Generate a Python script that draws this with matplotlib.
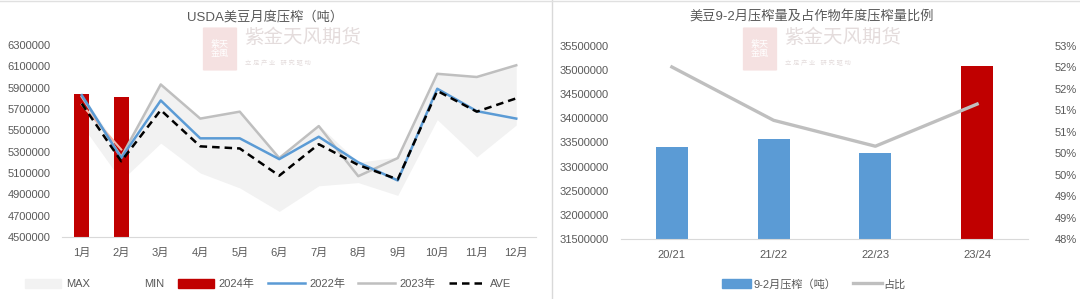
import numpy as np
import matplotlib
matplotlib.use("Agg")
import matplotlib.pyplot as plt
from matplotlib.patches import Patch, FancyBboxPatch
from matplotlib.lines import Line2D

plt.rcParams['font.family'] = ['Liberation Sans', 'Noto Sans CJK SC', 'DejaVu Sans']

# ---- left chart data (tonnes) ----
months = ['1月', '2月', '3月', '4月', '5月', '6月', '7月', '8月', '9月', '10月', '11月', '12月']
s_max = [5840000, 5300000, 5930000, 5610000, 5680000, 5250000, 5550000, 5200000, 5250000, 6040000, 6000000, 6120000]
s_min = [5550000, 5030000, 5380000, 5100000, 4960000, 4740000, 4980000, 5010000, 4890000, 5600000, 5250000, 5550000]
y2024 = [5840000, 5810000]
y2022 = [5830000, 5240000, 5780000, 5425000, 5425000, 5230000, 5440000, 5200000, 5030000, 5890000, 5680000, 5610000]
y2023 = [5815000, 5250000, 5930000, 5610000, 5675000, 5240000, 5540000, 5070000, 5240000, 6030000, 6000000, 6110000]
y_ave = [5750000, 5210000, 5690000, 5350000, 5330000, 5075000, 5370000, 5175000, 5040000, 5870000, 5675000, 5800000]
y_pink = [5740000, 5320000]

# ---- right chart data ----
seasons = ['20/21', '21/22', '22/23', '23/24']
crush_92 = [33400000, 33560000, 33270000, 35070000]
share = [52.45, 51.07, 50.40, 51.49]

RED = '#C00000'
BLUE = '#5B9BD5'
GRAY = '#BFBFBF'
TXT = '#595959'

fig = plt.figure(figsize=(10.8, 2.99), dpi=100)

# ================= left chart =================
ax = fig.add_axes([62/1080, 1-237/299, 474/1080, 192/299])
x = np.arange(len(months))
ax.fill_between(x, s_min, s_max, color='#F2F2F2', lw=0, zorder=1)
ax.bar(x[:len(y2024)], y2024, width=0.38, color=RED, zorder=2)
ax.plot(x[:len(y_pink)], y_pink, color='#F4B6A8', lw=1.5, zorder=3)
ax.plot(x, y2023, color=GRAY, lw=1.8, zorder=3)
ax.plot(x, y2022, color=BLUE, lw=1.8, zorder=4)
ax.plot(x, y_ave, color='black', lw=1.8, ls=(0, (3, 2)), zorder=5)

ax.set_ylim(4500000, 6300000)
ax.set_yticks(np.arange(4500000, 6300001, 200000))
ax.set_yticklabels([str(v) for v in range(4500000, 6300001, 200000)])
ax.set_xlim(-0.5, 11.5)
ax.set_xticks(x)
ax.set_xticklabels(months)
for s in ['top', 'right', 'left']:
    ax.spines[s].set_visible(False)
ax.spines['bottom'].set_color('#D9D9D9')
ax.tick_params(length=0, labelsize=8, colors=TXT)
ax.tick_params(axis='x', pad=8)
ax.tick_params(axis='y', pad=8)
fig.text(265/1080, 1-17/299, 'USDA美豆月度压榨（吨）', ha='center', va='center', fontsize=9.5, color=TXT)

handles = [Patch(color='#F2F2F2'), Patch(color='white'), Patch(color=RED),
           Line2D([], [], color=BLUE, lw=1.8), Line2D([], [], color=GRAY, lw=1.8),
           Line2D([], [], color='black', lw=1.8, ls=(0, (3, 2)))]
labels = ['MAX', 'MIN', '2024年', '2022年', '2023年', 'AVE']
fig.legend(handles, labels, loc='center', bbox_to_anchor=(268/1080, 1-284/299), ncol=6,
           frameon=False, fontsize=8, handlelength=3.3, handleheight=0.9, columnspacing=1.2,
           handletextpad=0.4, labelcolor=TXT)

# ================= right chart =================
ax2 = fig.add_axes([621/1080, 1-239/299, 407/1080, 193.3/299])
xr = np.arange(len(seasons))
bar_colors = [BLUE] * (len(seasons) - 1) + [RED]
ax2.bar(xr, crush_92, width=0.315, color=bar_colors, zorder=2)
ax2.set_ylim(31500000, 35500000)
ax2.set_yticks(np.arange(31500000, 35500001, 500000))
ax2.set_yticklabels([str(v) for v in range(31500000, 35500001, 500000)])
ax2.set_xlim(-0.5, 3.5)
ax2.set_xticks(xr)
ax2.set_xticklabels(seasons)
for s in ['top', 'right', 'left']:
    ax2.spines[s].set_visible(False)
ax2.spines['bottom'].set_color('#D9D9D9')
ax2.tick_params(length=0, labelsize=8, colors=TXT)
ax2.tick_params(axis='x', pad=8)
ax2.tick_params(axis='y', pad=9)

ax3 = ax2.twinx()
ax3.plot(xr, share, color=GRAY, lw=2.4, zorder=3)
ax3.set_ylim(48, 53)
rt = np.linspace(48, 53, 10)
ax3.set_yticks(rt)
ax3.set_yticklabels(['%d%%' % int(round(v)) for v in rt])
for s in ['top', 'right', 'left', 'bottom']:
    ax3.spines[s].set_visible(False)
ax3.tick_params(length=0, labelsize=8, colors=TXT, pad=19)
fig.text(812/1080, 1-17/299, '美豆9-2月压榨量及占作物年度压榨量比例', ha='center', va='center',
         fontsize=9.5, color=TXT)

h2 = [Patch(color=BLUE), Line2D([], [], color=GRAY, lw=2.4)]
fig.legend(h2, ['9-2月压榨（吨）', '占比'], loc='center', bbox_to_anchor=(814/1080, 1-284/299),
           ncol=2, frameon=False, fontsize=8, handlelength=2.6, handleheight=0.9,
           columnspacing=1.5, handletextpad=0.2, labelcolor=TXT)

# panel borders
fig.add_artist(Line2D([552/1080, 552/1080], [0, 1], color='#D9D9D9', lw=1))
fig.add_artist(Line2D([0, 1], [1-1/299, 1-1/299], color='#E0E0E0', lw=1))

# watermarks
for cx in (200, 740):
    fig.add_artist(FancyBboxPatch(((cx + 5)/1080, 1-70/299), 30/1080, 42/299,
                                  boxstyle='round,pad=0.002', fc='#F3DADA', ec='none', alpha=0.8))
    fig.text((cx + 20)/1080, 1-49/299, '紫天\n金風', ha='center', va='center', fontsize=6.5,
             color='white', linespacing=1.1)
    fig.text((cx + 44)/1080, 1-38/299, '紫金天风期货', ha='left', va='center', fontsize=14,
             color='#E4DCDC')
    fig.text((cx + 45)/1080, 1-63/299, '立 足 产 业   研 究 驱 动', ha='left', va='center', fontsize=4.5,
             color='#E4DCDC')

fig.savefig('out.png', dpi=100, facecolor='white')
